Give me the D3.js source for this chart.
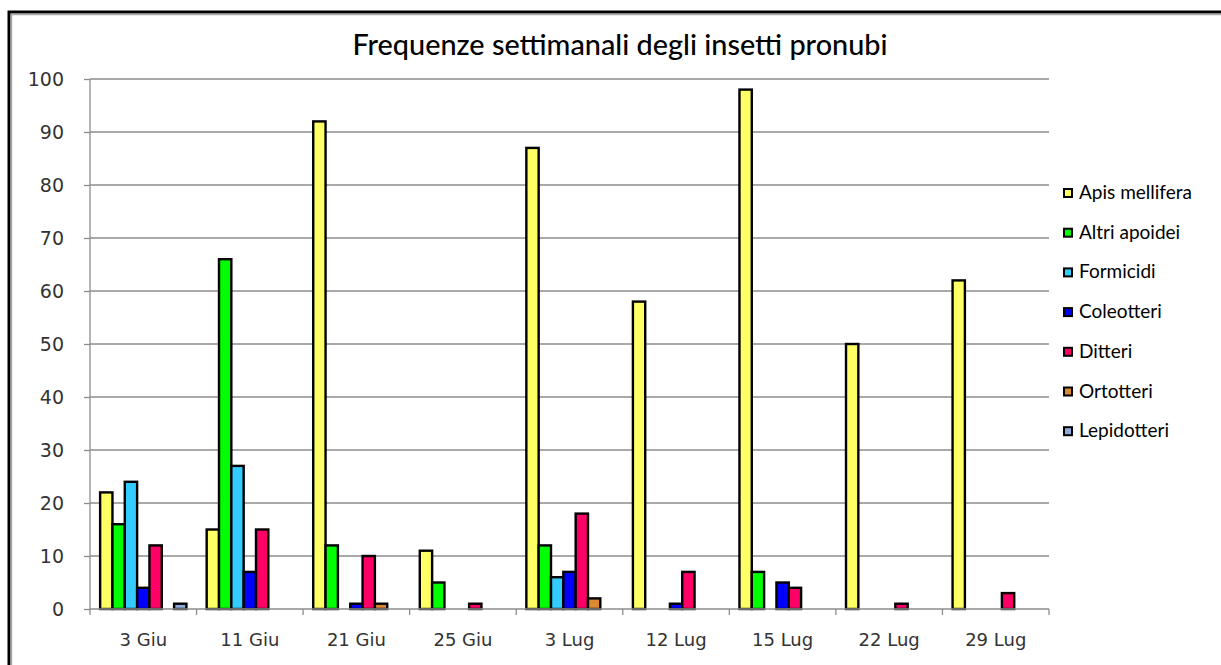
<!doctype html>
<html lang="it">
  <head>
    <meta charset="utf-8">
    <title>Frequenze settimanali degli insetti pronubi</title>
    <script src="https://d3js.org/d3.v7.min.js"></script>
    <style>
    body { margin: 0; background: #fff; }
    .grid line { stroke: #8c8c8c; stroke-width: 1.3; }
    .axis path, .axis line { stroke: #8c8c8c; stroke-width: 1.3; }
    .axis text { fill: #333; font-family: "DejaVu Sans", Verdana, sans-serif; font-size: 18px; }
    .y.axis text { font-size: 19px; }
    .bar { stroke: #000; stroke-width: 2.4; }
    </style>
  </head>
  <body>
    <svg width="1221" height="665"></svg>

    <script>
      // dati
      var dates = ['3 Giu', '11 Giu', '21 Giu', '25 Giu', '3 Lug', '12 Lug', '15 Lug', '22 Lug', '29 Lug'];
      var series = ['Apis mellifera', 'Altri apoidei', 'Formicidi', 'Coleotteri', 'Ditteri', 'Ortotteri', 'Lepidotteri'];
      var apis = [22, 15, 92, 11, 87, 58, 98, 50, 62];
      var altriApoidei = [16, 66, 12, 5, 12, 0, 7, 0, 0];
      var formicidi = [24, 27, 0, 0, 6, 0, 0, 0, 0];
      var coleotteri = [4, 7, 1, 0, 7, 1, 5, 0, 0];
      var ditteri = [12, 15, 10, 1, 18, 7, 4, 1, 3];
      var ortotteri = [0, 0, 1, 0, 2, 0, 0, 0, 0];
      var lepidotteri = [1, 0, 0, 0, 0, 0, 0, 0, 0];
      var yTicks = [0, 10, 20, 30, 40, 50, 60, 70, 80, 90, 100];
      var colors = ['#ffff66', '#00ff00', '#33ccff', '#0000ff', '#ff0066', '#dd8833', '#8faadc'];

      var values = [apis, altriApoidei, formicidi, coleotteri, ditteri, ortotteri, lepidotteri];

      var svg = d3.select('svg');

      // cornice
      svg.append('path')
        .attr('d', 'M9,700 V12 H1230')
        .attr('fill', 'none').attr('stroke', '#000').attr('stroke-width', 3);
      svg.append('path')
        .attr('d', 'M11.5,700 V14.5 H1230')
        .attr('fill', 'none').attr('stroke', '#aaa').attr('stroke-width', 1.5);

      var plotLeft = 90, plotRight = 1049, plotTop = 79, plotBottom = 609;

      var x0 = d3.scaleBand().domain(dates).range([plotLeft, plotRight]);
      var groupW = x0.bandwidth() * 0.81;
      var x1 = d3.scaleBand().domain(series).range([0, groupW]);
      var y = d3.scaleLinear().domain([0, 100]).range([plotBottom, plotTop]);

      // griglia
      svg.append('g').attr('class', 'grid')
        .selectAll('line').data(yTicks.slice(1))
        .enter().append('line')
          .attr('x1', plotLeft).attr('x2', plotRight)
          .attr('y1', function(d){ return y(d); })
          .attr('y2', function(d){ return y(d); });

      // barre
      series.forEach(function(s, i){
        var data = values[i].map(function(v, j){ return {date: dates[j], value: v}; })
          .filter(function(d){ return d.value > 0; });
        svg.append('g').selectAll('rect').data(data)
          .enter().append('rect')
            .attr('class', 'bar')
            .attr('fill', colors[i])
            .attr('x', function(d){ return x0(d.date) + (x0.bandwidth() - groupW) / 2 + x1(s); })
            .attr('width', x1.bandwidth())
            .attr('y', function(d){ return y(d.value); })
            .attr('height', function(d){ return plotBottom - y(d.value); });
      });

      // assi
      var yAxis = d3.axisLeft(y).tickValues(yTicks).tickSize(6).tickPadding(20);
      svg.append('g').attr('class', 'y axis')
        .attr('transform', 'translate(' + plotLeft + ',0)')
        .call(yAxis)
        .call(function(g){ g.select('.domain').attr('d', 'M0,' + plotTop + 'V' + plotBottom); });

      var xAxis = d3.axisBottom(x0).tickSize(0).tickPadding(24);
      var gx = svg.append('g').attr('class', 'x axis')
        .attr('transform', 'translate(0,' + plotBottom + ')')
        .call(xAxis);
      gx.select('.domain').attr('d', 'M' + plotLeft + ',0H' + plotRight);
      gx.selectAll('.sep').data(d3.range(dates.length + 1))
        .enter().append('line')
          .attr('x1', function(d){ return plotLeft + d * x0.step(); })
          .attr('x2', function(d){ return plotLeft + d * x0.step(); })
          .attr('y1', 0).attr('y2', 6);

      // titolo
      svg.append('text')
        .attr('x', 620).attr('y', 55)
        .attr('text-anchor', 'middle')
        .attr('textLength', 535).attr('lengthAdjust', 'spacingAndGlyphs')
        .style('font-family', 'Lato, "Open Sans", sans-serif')
        .style('font-size', '28px')
        .style('font-weight', 500)
        .style('fill', '#000')
        .text('Frequenze settimanali degli insetti pronubi');

      // legenda
      var legend = svg.append('g').selectAll('g').data(series)
        .enter().append('g')
          .attr('transform', function(d, i){ return 'translate(1064,' + (189 + i * 39.7) + ')'; });
      legend.append('rect')
        .attr('width', 8).attr('height', 8)
        .attr('fill', function(d, i){ return colors[i]; })
        .attr('stroke', '#000').attr('stroke-width', 2);
      legend.append('text')
        .attr('x', 15).attr('y', 10)
        .style('font-family', 'Lato, "Open Sans", sans-serif')
        .style('font-size', '19px')
        .text(function(d){ return d; });
    </script>
  </body>
</html>
